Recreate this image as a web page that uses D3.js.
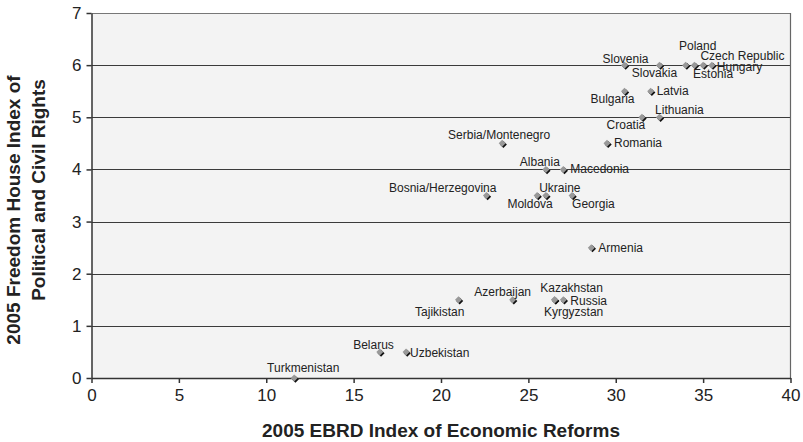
<!DOCTYPE html>
<html><head><meta charset="utf-8">
<script src="https://cdn.jsdelivr.net/npm/d3@7/dist/d3.min.js"></script>
<style>body{margin:0;background:#fff}svg{display:block}</style>
</head><body><svg id="c" width="803" height="442"></svg>
<script>
const countries = ["Turkmenistan","Belarus","Uzbekistan","Tajikistan","Azerbaijan","Kazakhstan","Kyrgyzstan","Russia","Armenia","Bosnia/Herzegovina","Moldova","Ukraine","Georgia","Albania","Macedonia","Serbia/Montenegro","Romania","Croatia","Lithuania","Bulgaria","Latvia","Slovenia","Slovakia","Poland","Czech Republic","Estonia","Hungary"];
const ebrd = [11.6,16.5,18.0,21.0,24.1,26.5,26.5,27.0,28.6,22.6,25.5,26.0,27.5,26.0,27.0,23.5,29.5,31.5,32.5,30.5,32.0,30.5,32.5,34.0,34.5,35.0,35.5];
const freedom = [0,0.5,0.5,1.5,1.5,1.5,1.5,1.5,2.5,3.5,3.5,3.5,3.5,4,4,4.5,4.5,5,5,5.5,5.5,6,6,6,6,6,6];
const xTicks = [0,5,10,15,20,25,30,35,40];
const yTicks = [0,1,2,3,4,5,6,7];
const xTitle = "2005 EBRD Index of Economic Reforms";
const yTitle = ["2005 Freedom House Index of","Political and Civil Rights"];

// label layout (anchor, nudge in px) — layout only, not data
const labelLayout = {
  "Turkmenistan":["middle",9,-6], "Belarus":["end",14,-3], "Uzbekistan":["start",4,5],
  "Tajikistan":["end",6,16], "Azerbaijan":["middle",-10,-4], "Kazakhstan":["middle",17,-8],
  "Kyrgyzstan":["middle",19,16], "Russia":["start",7,5], "Armenia":["start",7,4],
  "Bosnia/Herzegovina":["end",10,-4], "Moldova":["middle",-7,12], "Ukraine":["middle",14,-4],
  "Georgia":["start",0,12], "Albania":["middle",-6,-3], "Macedonia":["start",7,4],
  "Serbia/Montenegro":["middle",-3,-4], "Romania":["start",7,4], "Croatia":["middle",-16,12],
  "Lithuania":["middle",20,-3], "Bulgaria":["end",10,12], "Latvia":["start",6,4],
  "Slovenia":["middle",1,-2], "Slovakia":["middle",-5,12], "Poland":["middle",12,-15],
  "Czech Republic":["start",6,-5], "Estonia":["middle",10,13], "Hungary":["start",5,6]
};

const svg = d3.select("#c");
const m = {l:91.5, r:790.5, t:13, b:378};
const x = d3.scaleLinear().domain([0,40]).range([m.l,m.r]);
const y = d3.scaleLinear().domain([0,7]).range([m.b,m.t]);
const font = "Liberation Sans, Arial, sans-serif";

svg.append("rect").attr("x",m.l).attr("y",m.t).attr("width",m.r-m.l).attr("height",m.b-m.t).attr("fill","#f3f3f3");
svg.append("g").selectAll("line").data(yTicks.filter(d=>d>0)).join("line")
  .attr("x1",m.l).attr("x2",m.r).attr("y1",d=>Math.round(y(d))+0.5).attr("y2",d=>Math.round(y(d))+0.5)
  .attr("stroke",d=>d===7?"#777":"#3a3a3a").attr("stroke-width",1.2);
svg.append("line").attr("x1",m.r).attr("x2",m.r).attr("y1",m.t).attr("y2",m.b).attr("stroke","#666").attr("stroke-width",1.2);

const xAxis = svg.append("g").attr("transform",`translate(0,${m.b})`)
  .call(d3.axisBottom(x).tickValues(xTicks).tickSize(5).tickPadding(6).tickSizeOuter(0).tickFormat(d3.format("d")));
const yAxis = svg.append("g").attr("transform",`translate(${m.l},0)`)
  .call(d3.axisLeft(y).tickValues(yTicks).tickSize(5).tickPadding(5).tickSizeOuter(0).tickFormat(d3.format("d")));
[xAxis,yAxis].forEach(a=>{
  a.selectAll("path,line").attr("stroke","#333").attr("stroke-width",1.5);
  a.selectAll("text").attr("font-family",font).attr("font-size",17).attr("fill","#222");
});

svg.append("text").attr("x",(m.l+m.r)/2).attr("y",437).attr("text-anchor","middle")
  .attr("font-family",font).attr("font-weight","bold").attr("font-size",19).attr("fill","#222").text(xTitle);
const yCenters = [210,190], yBase = [20,45];
yTitle.forEach((t,i)=>svg.append("text").attr("transform",`translate(${yBase[i]},${yCenters[i]}) rotate(-90)`)
  .attr("text-anchor","middle").attr("font-family",font).attr("font-weight","bold").attr("font-size",19).attr("fill","#222").text(t));

const pts = countries.map((c,i)=>({c, x:ebrd[i], y:freedom[i]}));
const diamond = "M0,-3.5L3.5,0L0,3.5L-3.5,0Z";
const g = svg.append("g");
g.selectAll("path.sh").data(pts).join("path").attr("class","sh")
  .attr("d",diamond).attr("transform",d=>`translate(${x(d.x)+1.2},${y(d.y)+1.2})`).attr("fill","#111");
g.selectAll("path.pt").data(pts).join("path").attr("class","pt")
  .attr("d",diamond).attr("transform",d=>`translate(${x(d.x)},${y(d.y)})`).attr("fill","#999");

svg.append("g").selectAll("text").data(pts).join("text")
  .attr("x",d=>x(d.x)+labelLayout[d.c][1]).attr("y",d=>y(d.y)+labelLayout[d.c][2])
  .attr("text-anchor",d=>labelLayout[d.c][0])
  .attr("font-family",font).attr("font-size",12).attr("fill","#222").text(d=>d.c);
</script></body></html>
